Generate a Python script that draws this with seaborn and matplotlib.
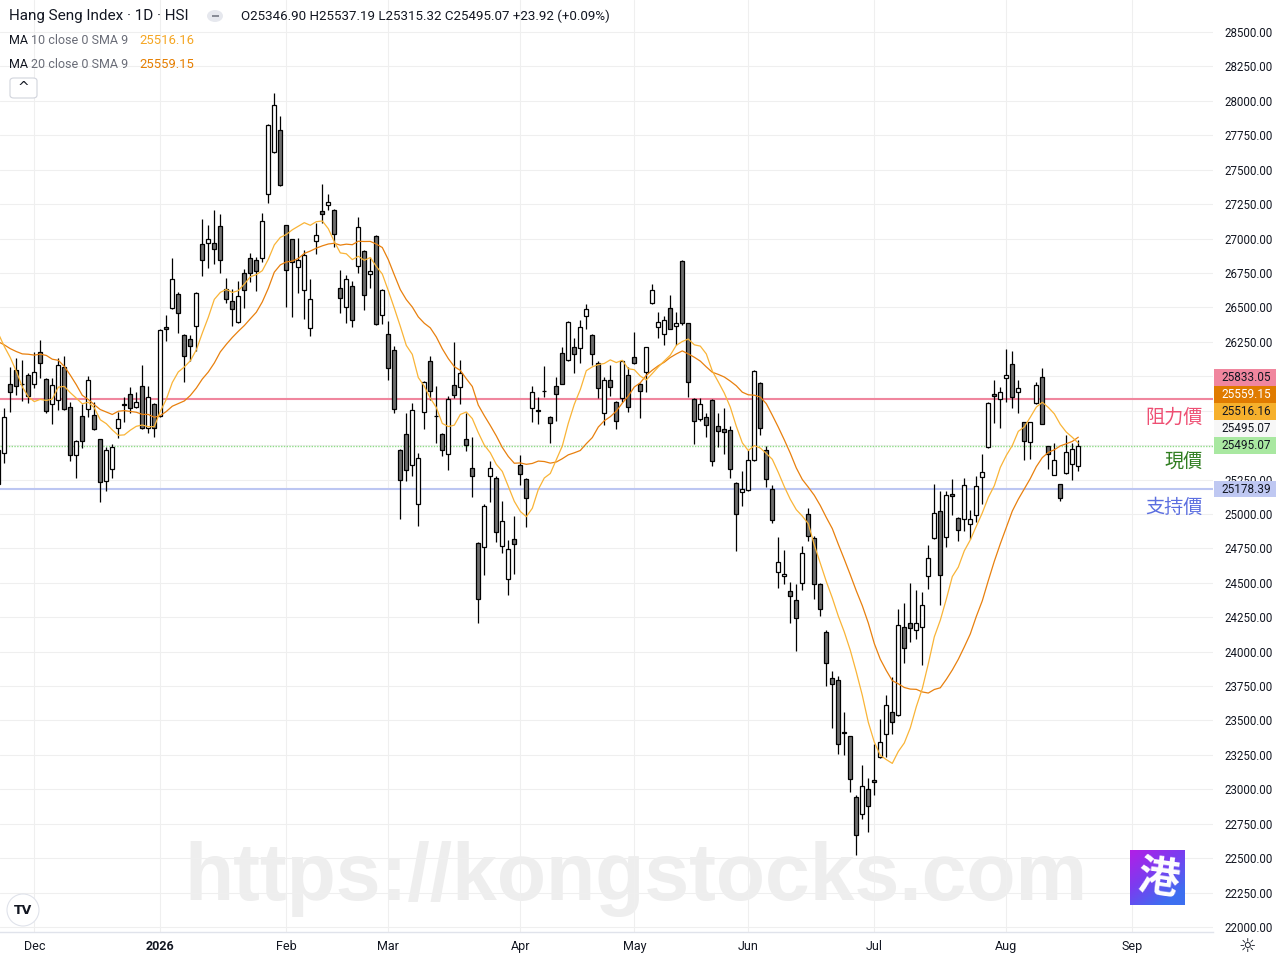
import numpy as np
import pandas as pd
import matplotlib
matplotlib.use("Agg")
import matplotlib.pyplot as plt
import matplotlib.patches as mpatches
import seaborn as sns

# HK trading calendar (business days minus exchange holidays)
holidays = ["2025-12-25", "2025-12-26", "2026-01-01", "2026-02-17", "2026-02-18",
            "2026-02-19", "2026-04-03", "2026-04-06", "2026-04-07", "2026-05-01",
            "2026-05-25", "2026-06-19", "2026-07-01"]

# daily OHLC, 2025-11-21 .. 2026-08-19
opens = [25464, 25442, 25944, 26045, 25944, 26009, 25944, 26176, 25980, 25798,
         25827, 26067, 25776, 25428, 25711, 25762, 25718, 25544, 25239, 25326,
         25624, 25798, 25871, 25776, 25929, 25624, 25798, 25711, 26358, 26496,
         26597, 26299, 26270, 26365, 26960, 26968, 26968, 27091, 26634, 26546,
         26394, 26750, 26859, 26844, 26859, 27323, 27628, 27788, 27098, 26997,
         26793, 26626, 26350, 26982, 27200, 27244, 27207, 26641, 26503, 26655,
         26800, 26910, 26742, 27018, 26445, 26306, 26191, 25464, 25580, 25355,
         25072, 25740, 26110, 25714, 25580, 25435, 25937, 25922, 25544, 25333,
         24789, 24760, 25275, 25261, 24767, 24527, 24818, 25355, 25253, 25769,
         25755, 25890, 25704, 25929, 26169, 26118, 26212, 26205, 26437, 26299,
         26096, 25733, 25973, 25813, 25842, 26009, 26140, 25944, 26030, 26532,
         26358, 26306, 26496, 26365, 26837, 26387, 25834, 25689, 25704, 25827,
         25638, 25617, 25609, 25225, 25159, 25174, 25392, 25951, 25464, 25181,
         24578, 24549, 24440, 24375, 24498, 24999, 24825, 24491, 24142, 23808,
         23794, 23417, 23388, 22944, 22821, 23002, 23068, 23235, 23402, 23562,
         23540, 24179, 24208, 24157, 24179, 24549, 24825, 25021, 24833, 25145,
         24970, 24963, 24927, 24992, 25268, 25486, 25871, 25834, 25987, 26089,
         25885, 25667, 25522, 25805, 25995, 25493, 25282, 25217, 25297, 25363,
         25346.90]
highs = [25500, 25769, 26067, 26133, 26118, 26023, 26176, 26263, 25987, 25987,
         26133, 26147, 25813, 25537, 25798, 26002, 25813, 25544, 25486, 25508,
         25740, 25849, 25922, 25885, 26081, 25929, 25805, 26343, 26445, 26859,
         26612, 26306, 26299, 26610, 27142, 27098, 27207, 27178, 26713, 26634,
         26692, 26779, 26895, 26866, 27186, 27830, 28057, 27890, 27100, 27000,
         27004, 26917, 26706, 27113, 27396, 27323, 27215, 26771, 26735, 26692,
         27156, 26915, 26866, 27026, 26630, 26401, 26220, 25470, 25733, 25805,
         25442, 25965, 26147, 25929, 25585, 25856, 26249, 26118, 25733, 25558,
         24795, 25072, 25384, 25275, 25094, 24811, 24985, 25428, 25260, 25929,
         25849, 26074, 25711, 25995, 26212, 26401, 26278, 26408, 26525, 26306,
         26110, 25995, 26081, 25820, 26118, 26067, 26321, 25950, 26215, 26670,
         26466, 26437, 26590, 26466, 26844, 26390, 25840, 25842, 25733, 25834,
         25733, 25769, 25638, 25230, 25312, 25464, 26045, 25955, 25493, 25210,
         24833, 24738, 24506, 24491, 24767, 25043, 24840, 24495, 24157, 23859,
         23823, 23562, 23390, 22959, 23177, 23082, 23329, 23511, 23685, 23816,
         24310, 24353, 24498, 24447, 24433, 24774, 25217, 25166, 25166, 25253,
         24975, 25261, 25028, 25275, 25435, 25810, 25973, 25922, 26198, 26183,
         25973, 25670, 25670, 25958, 26060, 25495, 25515, 25220, 25573, 25515,
         25537.19]
lows = [25174, 25370, 25740, 25864, 25820, 25805, 25915, 25987, 25733, 25653,
        25755, 25755, 25384, 25261, 25479, 25704, 25609, 25087, 25166, 25261,
        25551, 25667, 25733, 25769, 25620, 25587, 25558, 25704, 26256, 26490,
        26314, 25958, 26110, 26183, 26728, 26786, 26815, 26750, 26532, 26365,
        26390, 26496, 26684, 26619, 26830, 27258, 27621, 27385, 26503, 26430,
        26604, 26416, 26292, 26888, 27113, 27207, 26939, 26459, 26387, 26358,
        26750, 26481, 26641, 26375, 26379, 25973, 25733, 24963, 25239, 25275,
        24912, 25617, 25827, 25515, 25421, 25319, 25842, 25798, 25457, 25123,
        24208, 24556, 25087, 24796, 24716, 24411, 24564, 25210, 24905, 25667,
        25653, 25849, 25515, 25675, 25940, 26110, 26023, 26096, 26343, 26081,
        25842, 25646, 25856, 25617, 25813, 25740, 26090, 25696, 25885, 26525,
        26278, 26227, 26340, 26227, 26372, 25849, 25508, 25675, 25558, 25348,
        25486, 25435, 25261, 24731, 25058, 25170, 25385, 25573, 25195, 24934,
        24462, 24491, 24208, 24004, 24447, 24804, 24382, 24259, 23750, 23446,
        23257, 23249, 22981, 22523, 22785, 22690, 22959, 23228, 23235, 23402,
        23535, 23917, 24070, 24092, 23903, 24455, 24820, 24339, 24760, 24992,
        24804, 24876, 24818, 24941, 25072, 25480, 25660, 25624, 25813, 25769,
        25733, 25392, 25399, 25800, 25650, 25326, 25280, 25094, 25290, 25246,
        25315.32]
closes = [25217, 25704, 25885, 25929, 25940, 25856, 26030, 26096, 25748, 25937,
          26081, 25762, 25428, 25530, 25530, 25973, 25617, 25232, 25464, 25486,
          25689, 25791, 25769, 25813, 25624, 25849, 25624, 26336, 26343, 26706,
          26459, 26147, 26220, 26604, 26844, 26997, 26924, 26844, 26561, 26488,
          26583, 26626, 26750, 26764, 27127, 27825, 27970, 27389, 26771, 26830,
          26844, 26881, 26561, 27026, 27178, 27265, 27033, 26568, 26706, 26408,
          27084, 26590, 26764, 26379, 26626, 26060, 25762, 25246, 25319, 25755,
          25406, 25958, 25893, 25708, 25464, 25834, 25864, 26023, 25500, 25275,
          24382, 25058, 25333, 24869, 24949, 24745, 24782, 25290, 25116, 25885,
          25748, 25893, 25660, 25871, 25944, 26394, 26162, 26358, 26488, 26162,
          25915, 25973, 25922, 25675, 26110, 25776, 26096, 25893, 26212, 26626,
          26394, 26408, 26343, 26387, 26387, 25958, 25675, 25798, 25646, 25384,
          25602, 25595, 25326, 24999, 25181, 25392, 26038, 25624, 25253, 24956,
          24651, 24564, 24404, 24244, 24716, 24840, 24491, 24310, 23917, 23765,
          23329, 23410, 23075, 22668, 23024, 22879, 23053, 23344, 23612, 23489,
          24193, 24026, 24172, 24208, 24339, 24680, 25007, 24556, 25137, 25130,
          24883, 25210, 24963, 25203, 25304, 25805, 25856, 25885, 26009, 25849,
          25915, 25530, 25667, 25937, 25653, 25435, 25392, 25116, 25450, 25471,
          25495.07]
# closes before the first visible bar, so the moving averages start at the left edge
warmup_closes = [26160, 26434, 26346, 26282, 25907, 26158, 25952, 25935, 26486, 26241,
                 26649, 26696, 26922, 27073, 26572, 26384, 25930, 25830, 25835]

month_keys = ["2025-12", "2026-01", "2026-02", "2026-03", "2026-04",
              "2026-05", "2026-06", "2026-07", "2026-08", "2026-09"]
month_labels = ["Dec", "2026", "Feb", "Mar", "Apr", "May", "Jun", "Jul", "Aug", "Sep"]

resistance = 25833.05
support = 25178.39
last_close = 25495.07
ma10_last = 25516.16
ma20_last = 25559.15

# ---------------------------------------------------------------------------
W, H = 1280, 960
sns.set_theme(style="white")
plt.rcParams["font.family"] = ["Roboto", "Noto Sans CJK TC", "DejaVu Sans"]
TXT = "#131722"

calendar = pd.bdate_range("2025-11-21", "2026-09-30")
calendar = calendar[~calendar.isin(pd.to_datetime(holidays))]
cal_pos = pd.Series(np.arange(1, len(calendar) + 1), index=calendar)

n = len(closes)
df = pd.DataFrame({"date": calendar[:n], "pos": cal_pos.values[:n],
                   "open": opens, "high": highs, "low": lows, "close": closes})
all_close = pd.Series(warmup_closes + closes, dtype=float)
df["ma10"] = all_close.rolling(10).mean().iloc[len(warmup_closes):].to_numpy()
df["ma20"] = all_close.rolling(20).mean().iloc[len(warmup_closes):].to_numpy()

fig = plt.figure(figsize=(W / 100, H / 100), dpi=100)
fig.patch.set_facecolor("white")
ax = fig.add_axes([0, 28 / H, 1213 / W, 932 / H])
ax.set_facecolor("white")


def fxy(px, py):
    return px / W, 1 - py / H


def val_to_py(v):
    return H - ax.transData.transform((0, v))[1]


# axes limits and x ticks
ax.set_xlim(1.283, 203.45)
ax.set_ylim(21963.75, 28732.4)
tick_pos = [cal_pos.loc[k].iloc[0] for k in month_keys]
ax.set_xticks(tick_pos)
ax.set_xticklabels(month_labels)
ax.tick_params(axis="x", length=0, pad=6, labelsize=9, labelcolor=TXT)
ax.get_xticklabels()[1].set_fontweight("bold")

# price scale labels (stacked upwards from the current price)
stack = [(last_close, "#a9e8a1", TXT), (last_close, "#f7f7f7", TXT),
         (ma10_last, "#f6b02c", TXT), (ma20_last, "#e07b00", "white"),
         (resistance, "#f0869e", TXT)]
boxes = []
prev = None
for v, bg, fg in stack:
    py = val_to_py(v)
    if prev is not None:
        py = min(py, prev - 17)
    boxes.append((v, py, bg, fg))
    prev = py
boxes.append((support, val_to_py(support), "#bfc8f2", TXT))

# y ticks on the right; labels hidden where a price box sits on them
yt = np.arange(22000, 28501, 250)
ax.set_yticks(yt)
ylabels = []
for v in yt:
    py = val_to_py(v)
    covered = any(abs(py - b[1]) <= 8.3 for b in boxes)
    ylabels.append("" if covered else f"{v:.2f}")
ax.set_yticklabels(ylabels)
ax.yaxis.tick_right()
ax.tick_params(axis="y", length=0, pad=8, labelsize=8.3, labelcolor=TXT)

ax.grid(True, color="#efefef", lw=0.8, zorder=0)
for s in ["top", "left", "right"]:
    ax.spines[s].set_visible(False)
ax.spines["bottom"].set_color("#e0e3eb")
ax.spines["bottom"].set_linewidth(1.0)

# watermark
ax.text(184 / W, 1 - 900 / H, "https://kongstocks.com", transform=fig.transFigure,
        fontsize=58, fontweight="bold", family=["Liberation Sans", "DejaVu Sans"],
        color="#eeeeee", ha="left", va="baseline", zorder=0.5)

# level lines
ax.axhline(resistance, color="#f0869e", lw=1.5, zorder=2)
ax.axhline(support, color="#bcc6f2", lw=1.5, zorder=2)
ax.axhline(last_close, color="#8fdc88", lw=1.0, ls=(0, (1, 1)), zorder=2)

# candles
up = df["close"] >= df["open"]
body_lo = np.minimum(df["open"], df["close"])
body_h = np.maximum((df["close"] - df["open"]).abs(), 6)
ax.vlines(df["pos"], df["low"], df["high"], color="#000000", lw=0.9, zorder=3)
ax.bar(df["pos"], body_h, bottom=body_lo, width=0.72,
       color=np.where(up, "#ffffff", "#6e6e6e"), edgecolor="#000000",
       linewidth=0.9, zorder=4)

# moving averages
sns.lineplot(data=df, x="pos", y="ma20", color="#e8800e", lw=0.9, ax=ax, zorder=5, sort=False)
sns.lineplot(data=df, x="pos", y="ma10", color="#f9b437", lw=0.9, ax=ax, zorder=5, sort=False)
ax.set_xlabel("")
ax.set_ylabel("")

for v, py, bg, fg in boxes:
    x0, y0 = fxy(1214, py + 8)
    fig.add_artist(mpatches.Rectangle((x0, y0), 62 / W, 16.5 / H, transform=fig.transFigure,
                                      facecolor=bg, edgecolor="none", zorder=3))
    fig.text(1246 / W, 1 - py / H, f"{v:.2f}", fontsize=8.5, color=fg,
             ha="center", va="center", zorder=4)

# level captions
cjk = ["Noto Sans CJK TC", "DejaVu Sans"]
for txt, yy, col in [("阻力價", 417, "#ee4f73"), ("現價", 462, "#2f7d20"), ("支持價", 507, "#5b6ee0")]:
    fig.text(1203 / W, 1 - yy / H, txt, family=cjk, fontsize=13.8, color=col,
             ha="right", va="center", zorder=4)

# header
fig.text(9 / W, 1 - 16 / H, "Hang Seng Index · 1D · HSI", fontsize=11, color=TXT,
         ha="left", va="center")
fig.add_artist(mpatches.Circle(fxy(215, 16), 8 / W, transform=fig.transFigure,
                               facecolor="#e6e8ee", edgecolor="none"))
fig.add_artist(mpatches.Rectangle(fxy(211.5, 17.2), 7 / W, 2.4 / H,
                                  transform=fig.transFigure, facecolor="#888c96",
                                  edgecolor="none"))
fig.text(241 / W, 1 - 16 / H, "O25346.90 H25537.19 L25315.32 C25495.07 +23.92 (+0.09%)",
         fontsize=9.6, color=TXT, ha="left", va="center")
for yy, label, val, col in [(40, "10 close 0 SMA 9", f"{ma10_last:.2f}", "#f5a623"),
                            (64, "20 close 0 SMA 9", f"{ma20_last:.2f}", "#e67e00")]:
    fig.text(9 / W, 1 - yy / H, "MA", fontsize=9, color=TXT, ha="left", va="center")
    fig.text(31 / W, 1 - yy / H, label, fontsize=9, color="#6a6d78", ha="left", va="center")
    fig.text(139 / W, 1 - yy / H, val, fontsize=9.4, color=col, ha="left", va="center")
fig.add_artist(mpatches.FancyBboxPatch(fxy(10, 98), 27 / W, 20 / H,
                                       boxstyle="round,pad=0,rounding_size=0.003",
                                       transform=fig.transFigure, facecolor="white",
                                       edgecolor="#d1d4dc", lw=0.8))
fig.text(23.5 / W, 1 - 88 / H, "^", fontsize=10, color=TXT, ha="center", va="center",
         family=["DejaVu Sans"])

# TradingView badge
fig.add_artist(mpatches.Ellipse(fxy(23, 910), 32 / W, 32 / H, transform=fig.transFigure,
                                facecolor="white", edgecolor="#e0e3eb", lw=0.8))
fig.text(23 / W, 1 - 910 / H, "TV", fontsize=9, fontweight="heavy", color=TXT,
         ha="center", va="center", family=["DejaVu Sans"])

# site logo
lax = fig.add_axes([1130 / W, 1 - 905 / H, 55 / W, 55 / H])
gx, gy = np.meshgrid(np.linspace(0, 1, 60), np.linspace(0, 1, 60))
grad = np.clip((gx * 0.5 + gy * 0.7), 0, 1)
cmap = matplotlib.colors.LinearSegmentedColormap.from_list("logo", ["#b21fe6", "#7b3cf0", "#3d6ff0"])
lax.imshow(grad, cmap=cmap, extent=(0, 1, 0, 1), origin="upper", aspect="auto")
lax.text(0.52, 0.47, "港", family=cjk, fontsize=30, fontweight="bold", color="white",
         ha="center", va="center", rotation=-8)
lax.set_axis_off()

# settings icon
fig.text(1247 / W, 1 - 946 / H, "☼", fontsize=14, color=TXT, ha="center", va="center",
         family=["DejaVu Sans"])

fig.savefig("out.png", dpi=100, facecolor="white")
